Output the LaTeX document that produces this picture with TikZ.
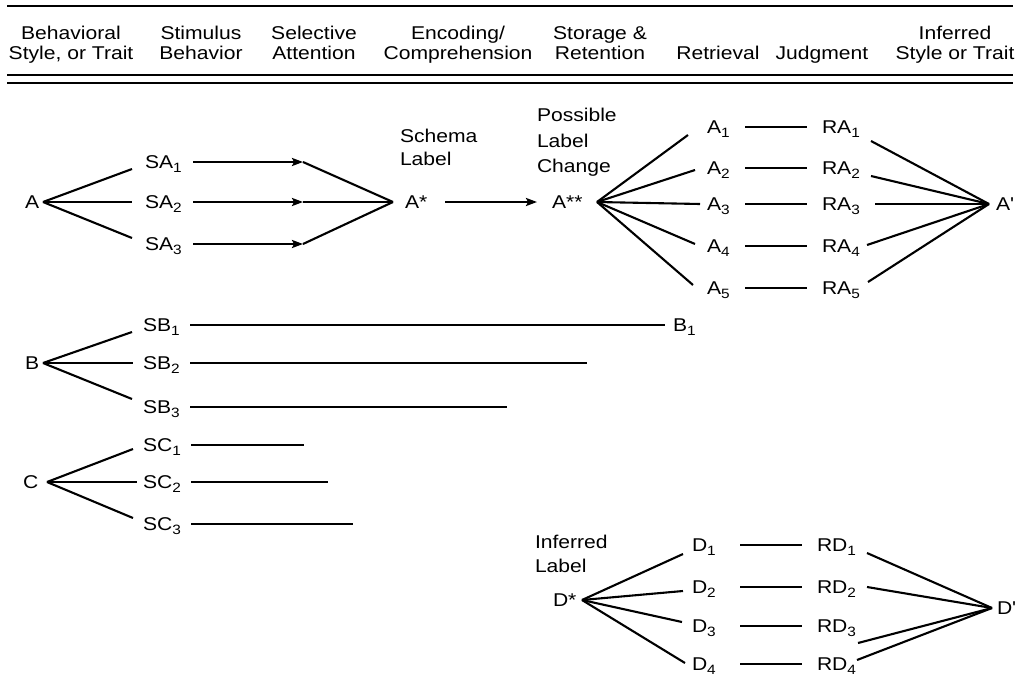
\documentclass[tikz,border=0pt]{standalone}
\usepackage{fontspec}
\setmainfont{Liberation Sans}[FakeStretch=1.14, Ligatures=TeXOff]
\usetikzlibrary{arrows.meta,calc}
\newcommand\sbx[1]{\raisebox{-0.23em}{\fontsize{13.5}{13.5}\selectfont #1}}
\begin{document}
\begin{tikzpicture}[x=1pt,y=-1pt,
  every node/.style={inner sep=0pt, outer sep=0pt, font=\fontsize{18.5}{20}\selectfont},
  lbl/.style={anchor=west, text height=13.2pt, text depth=0pt},
  hdr/.style={anchor=north, align=center},
  ml/.style={anchor=north west, align=left, font=\fontsize{18.5}{#1}\selectfont},
  conn/.style={line width=2.1pt},
  arr/.style={conn, -{Stealth[length=11pt,width=8pt,inset=2pt]}},
  rule/.style={line width=2.2pt}]
\useasboundingbox (0,0) rectangle (1024,677);

% rules
\draw[rule] (7,6) -- (1013,6);
\draw[rule] (7,75) -- (1013,75);
\draw[rule] (7,83) -- (1013,83);

% header
\node[hdr] (h1) at (71,26.4) {Behavioral\\Style, or Trait};
\node[hdr] (h2) at (201,26.4) {Stimulus\\Behavior};
\node[hdr] (h3) at (314,26.4) {Selective\\Attention};
\node[hdr] (h4) at (458,26.4) {Encoding/\\Comprehension};
\node[hdr] (h5) at (600,26.4) {Storage \&\\Retention};
\node[hdr] (h6) at (718,46.4) {Retrieval};
\node[hdr] (h7) at (822,46.4) {Judgment};
\node[hdr] (h8) at (955,26.4) {Inferred\\Style or Trait};

% ---------- row A ----------
\node[lbl] (A) at (25,202) {A};
\node[lbl] (SA1) at (145,162) {SA\sbx{1}};
\node[lbl] (SA2) at (145,202) {SA\sbx{2}};
\node[lbl] (SA3) at (145,244) {SA\sbx{3}};
\node[ml=23] (schema) at (400,129.4) {Schema\\Label};
\node[lbl] (Astar) at (405,202) {A*};
\node[ml=25.5] (possible) at (537,108.4) {Possible\\Label\\Change};
\node[lbl] (Astar2) at (552,202) {A**};
\node[lbl] (A1) at (707,127) {A\sbx{1}};
\node[lbl] (A2) at (707,168) {A\sbx{2}};
\node[lbl] (A3) at (707,204) {A\sbx{3}};
\node[lbl] (A4) at (707,246) {A\sbx{4}};
\node[lbl] (A5) at (707,288) {A\sbx{5}};
\node[lbl] (RA1) at (822,127) {RA\sbx{1}};
\node[lbl] (RA2) at (822,168) {RA\sbx{2}};
\node[lbl] (RA3) at (822,204) {RA\sbx{3}};
\node[lbl] (RA4) at (822,246) {RA\sbx{4}};
\node[lbl] (RA5) at (822,288) {RA\sbx{5}};
\node[lbl] (Aprime) at (996,204) {A'};

\coordinate (A-o) at ($(A.west)+(18,0)$);
\coordinate (sel1) at (303,162);
\coordinate (sel2) at (303,202);
\coordinate (sel3) at (303,244);
\coordinate (enc) at ($(Astar.west)+(-12,0)$);
\coordinate (Astar2-o) at ($(Astar2.west)+(45,0)$);
\coordinate (Aprime-i) at ($(Aprime.west)+(-7,0)$);

\foreach \i/\dx/\dy in {1/-13/7, 2/-13/0, 3/-13/-6}
  \draw[conn] (A-o) -- ($(SA\i.west)+(\dx,\dy)$);
\foreach \i in {1,2,3} {
  \draw[arr] ($(SA\i.west)+(48,0)$) -- (sel\i);
  \draw[conn] (sel\i) -- (enc);
}
\draw[arr] ($(Astar.west)+(40,0)$) -- ($(Astar2.west)+(-15,0)$);
\foreach \i/\dx/\dy in {1/-19/8, 2/-12/2, 3/-7/0, 4/-12/-2, 5/-14/-3}
  \draw[conn] (Astar2-o) -- ($(A\i.west)+(\dx,\dy)$);
\foreach \i in {1,...,5}
  \draw[conn] ($(A\i.west)+(38,0)$) -- ($(RA\i.west)+(-15,0)$);
\foreach \i/\dx/\dy in {1/49/14, 2/49/8, 3/53/0, 4/45/-1, 5/46/-6}
  \draw[conn] ($(RA\i.west)+(\dx,\dy)$) -- (Aprime-i);

% ---------- row B ----------
\node[lbl] (B) at (25,363) {B};
\node[lbl] (SB1) at (143,325) {SB\sbx{1}};
\node[lbl] (SB2) at (143,363) {SB\sbx{2}};
\node[lbl] (SB3) at (143,407) {SB\sbx{3}};
\node[lbl] (B1) at (673,325) {B\sbx{1}};
\coordinate (B-o) at ($(B.west)+(18,0)$);
\coordinate (SB2-e) at (587,363);
\coordinate (SB3-e) at (507,407);
\foreach \i/\dx/\dy in {1/-11/7, 2/-10/0, 3/-11/-8}
  \draw[conn] (B-o) -- ($(SB\i.west)+(\dx,\dy)$);
\draw[conn] ($(SB1.west)+(47,0)$) -- ($(B1.west)+(-8,0)$);
\draw[conn] ($(SB2.west)+(47,0)$) -- (SB2-e);
\draw[conn] ($(SB3.west)+(47,0)$) -- (SB3-e);

% ---------- row C ----------
\node[lbl] (C) at (23,482) {C};
\node[lbl] (SC1) at (143,445) {SC\sbx{1}};
\node[lbl] (SC2) at (143,482) {SC\sbx{2}};
\node[lbl] (SC3) at (143,524) {SC\sbx{3}};
\coordinate (C-o) at ($(C.west)+(24,0)$);
\coordinate (SC1-e) at (304,445);
\coordinate (SC2-e) at (328,482);
\coordinate (SC3-e) at (353,524);
\foreach \i/\dx/\dy in {1/-10/4, 2/-6/0, 3/-10/-6}
  \draw[conn] (C-o) -- ($(SC\i.west)+(\dx,\dy)$);
\foreach \i in {1,2,3}
  \draw[conn] ($(SC\i.west)+(48,0)$) -- (SC\i-e);

% ---------- row D ----------
\node[ml=24] (inferred) at (535,535.4) {Inferred\\Label};
\node[lbl] (Dstar) at (553,600) {D*};
\node[lbl] (D1) at (692,545) {D\sbx{1}};
\node[lbl] (D2) at (692,587) {D\sbx{2}};
\node[lbl] (D3) at (692,626) {D\sbx{3}};
\node[lbl] (D4) at (692,664) {D\sbx{4}};
\node[lbl] (RD1) at (817,545) {RD\sbx{1}};
\node[lbl] (RD2) at (817,587) {RD\sbx{2}};
\node[lbl] (RD3) at (817,626) {RD\sbx{3}};
\node[lbl] (RD4) at (817,664) {RD\sbx{4}};
\node[lbl] (Dprime) at (997,608) {D'};
\coordinate (Dstar-o) at ($(Dstar.west)+(29,0)$);
\coordinate (Dprime-i) at ($(Dprime.west)+(-5,0)$);
\foreach \i/\dx/\dy in {1/-9/9, 2/-9/4, 3/-10/-4, 4/-7/-1}
  \draw[conn] (Dstar-o) -- ($(D\i.west)+(\dx,\dy)$);
\foreach \i in {1,...,4}
  \draw[conn] ($(D\i.west)+(48,0)$) -- ($(RD\i.west)+(-15,0)$);
\foreach \i/\dx/\dy in {1/50/8, 2/50/0, 3/41/17, 4/40/-4}
  \draw[conn] ($(RD\i.west)+(\dx,\dy)$) -- (Dprime-i);
\end{tikzpicture}
\end{document}
